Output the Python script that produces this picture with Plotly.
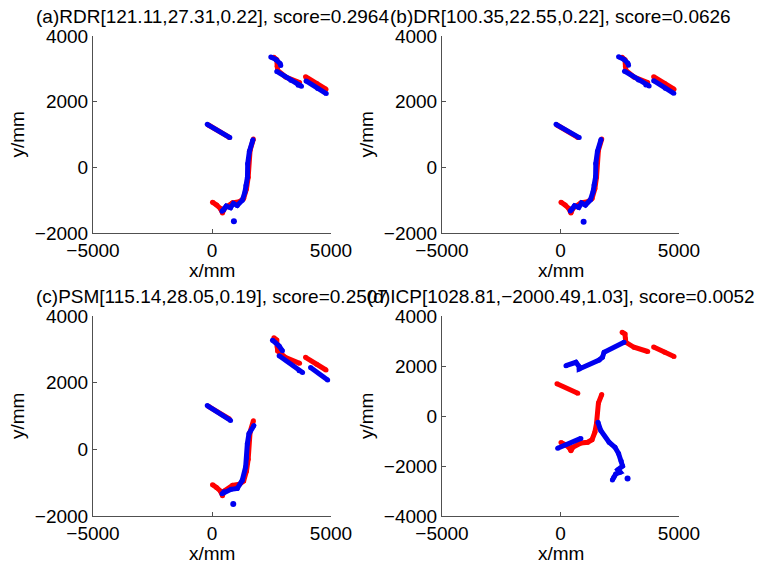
import plotly.graph_objects as go

W, H = 762, 569

# ---------------- data (mm) ----------------
# reference scan (red), same in every panel; None separates segments
red_x = [2600, 2720, 2740, 2760, 3100, 3680, None,
         3930, 4400, 4790, None,
         -150, 730, None,
         1740, 1600, 1520, 1450, 1330, 1150, 860, 520, 440, 350, 200, 20]
red_y = [3350, 3280, 3080, 2950, 2750, 2580, None,
         2760, 2550, 2380, None,
         1290, 910, None,
         860, 520, -300, -650, -950, -1050, -1080, -1250, -1390, -1250, -1150, -1060]

# transformed scans (blue)
a_blue_x = [2470, 2690, 2860, 2890, None, 2720, 3310, 3620, 3760, None,
            3950, 4440, 4800, None, -200, 750, None,
            1720, 1570, 1500, 1490, 1430, 1385, 1275, 1060, 900, 780, 600, 500, 420]
a_blue_y = [3360, 3280, 3160, 3100, None, 2920, 2650, 2500, 2470, None,
            2630, 2400, 2245, None, 1310, 905, None,
            840, 480, 110, -300, -550, -750, -1000, -1160, -1100, -1230, -1180, -1290, -1340]
a_dot_x, a_dot_y = [920], [-1645]

b_blue_x = [2450, 2670, 2840, 2870, None, 2700, 3290, 3600, 3740, None,
            3930, 4420, 4780, None, -190, 790, None,
            1710, 1560, 1490, 1480, 1420, 1375, 1265, 1050, 890, 770, 590, 490, 410]
b_blue_y = [3370, 3290, 3170, 3110, None, 2930, 2660, 2510, 2480, None,
            2640, 2410, 2255, None, 1310, 905, None,
            850, 490, 120, -290, -540, -740, -990, -1150, -1090, -1220, -1170, -1280, -1330]
b_dot_x, b_dot_y = [975], [-1660]

c_blue_x = [2540, 2820, 2960, None, 2820, 3660, 3806, None,
            4140, 4860, None, -200, 780, None,
            1764, 1553, 1485, 1450, 1414, 1274, 1063, 800, 498, 420]
c_blue_y = [3275, 3100, 2955, None, 2806, 2360, 2307, None,
            2457, 2080, None, 1313, 866, None,
            716, 468, 170, -250, -528, -925, -1173, -1200, -1274, -1330]
c_dot_x, c_dot_y = [893], [-1642]

d_blue_x = [230, 650, 790, 790, 1630, 1770, 1840, 2680, None,
            -120, 860, None,
            1580, 1700, 2050, 2300, 2450, 2560, 2620, 2420, 2520, 2330, 2250, 2190]
d_blue_y = [2012, 2148, 1972, 1880, 2240, 2348, 2548, 2948, None,
            -1290, -895, None,
            -250, -580, -1050, -1250, -1500, -1800, -2000, -2150, -2250, -2320, -2450, -2560]
d_dot_x, d_dot_y = [2830], [-2500]

titles = ["(a)RDR[121.11,27.31,0.22], score=0.2964",
          "(b)DR[100.35,22.55,0.22], score=0.0626",
          "(c)PSM[115.14,28.05,0.19], score=0.2507",
          "(d)ICP[1028.81,\u22122000.49,1.03], score=0.0052"]
x_ticks = [-5000, 0, 5000]
y_ticks_std = [-2000, 0, 2000, 4000]
y_ticks_d = [-4000, -2000, 0, 2000, 4000]

panels = [
    (a_blue_x, a_blue_y, a_dot_x, a_dot_y, [-2000, 4000], y_ticks_std),
    (b_blue_x, b_blue_y, b_dot_x, b_dot_y, [-2000, 4000], y_ticks_std),
    (c_blue_x, c_blue_y, c_dot_x, c_dot_y, [-2000, 4000], y_ticks_std),
    (d_blue_x, d_blue_y, d_dot_x, d_dot_y, [-4000, 4000], y_ticks_d),
]

# ---------------- layout geometry (pixels) ----------------
col_px = [(93, 331), (442, 679)]
row_px = [(36, 233), (316, 516)]

RED = "rgb(255,0,0)"
BLUE = "rgb(0,0,240)"
FONT = "Liberation Sans, Arial, Helvetica, sans-serif"
AX = "#505050"

fig = go.Figure()
layout = {}
annotations = []
for i, (bx, by, dx, dy, yr, yt) in enumerate(panels):
    r, c = divmod(i, 2)
    n = "" if i == 0 else str(i + 1)
    xa, ya = "x" + n, "y" + n
    for xs, ys, col in [(red_x, red_y, RED), (bx, by, BLUE)]:
        fig.add_trace(go.Scatter(x=xs, y=ys, mode="lines+markers", xaxis=xa, yaxis=ya,
                                 line=dict(color=col, width=5),
                                 marker=dict(color=col, size=5),
                                 connectgaps=False, showlegend=False, hoverinfo="skip"))
    fig.add_trace(go.Scatter(x=dx, y=dy, mode="markers", xaxis=xa, yaxis=ya,
                             marker=dict(color=BLUE, size=6), showlegend=False))
    x0, x1 = col_px[c]
    y0, y1 = row_px[r]
    common = dict(showline=True, linecolor=AX, linewidth=1, ticks="inside", ticklen=4,
                  tickcolor=AX, showgrid=False, zeroline=False, mirror=False,
                  automargin=False,
                  tickfont=dict(family=FONT, size=19, color="black"), fixedrange=True)
    layout["xaxis" + n] = dict(domain=[x0 / W, x1 / W], range=[-5000, 5000],
                               tickvals=x_ticks, anchor=ya, **common)
    layout["yaxis" + n] = dict(domain=[1 - y1 / H, 1 - y0 / H], range=yr,
                               tickvals=yt, anchor=xa, **common)
    cx = (x0 + x1) / 2
    annotations.append(dict(text=titles[i], x=cx / W, y=1 - (y0 - 20) / H,
                            xref="paper", yref="paper", xanchor="center", yanchor="middle",
                            showarrow=False, font=dict(family=FONT, size=19, color="black")))
    annotations.append(dict(text="x/mm", x=cx / W, y=1 - (y1 + 37) / H,
                            xref="paper", yref="paper", xanchor="center", yanchor="middle",
                            showarrow=False, font=dict(family=FONT, size=19, color="black")))
    annotations.append(dict(text="y/mm", x=(x0 - 76) / W, y=1 - ((y0 + y1) / 2) / H,
                            xref="paper", yref="paper", xanchor="center", yanchor="middle",
                            textangle=-90, showarrow=False,
                            font=dict(family=FONT, size=19, color="black")))

fig.update_layout(width=W, height=H,
                  margin=dict(l=0, r=0, t=0, b=0, pad=0, autoexpand=False),
                  paper_bgcolor="white", plot_bgcolor="white",
                  annotations=annotations, **layout)
fig.write_html("out.html", config={"displayModeBar": False},
               post_script="document.body.style.margin='0';document.body.style.overflow='hidden';")
